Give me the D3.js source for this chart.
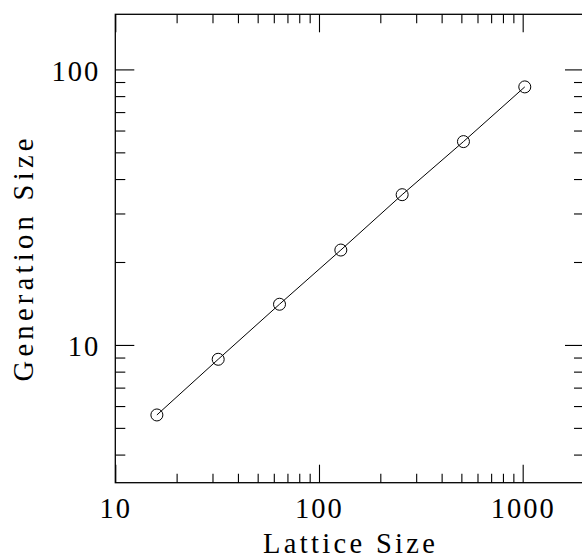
<!DOCTYPE html>
<html>
<head>
<meta charset="utf-8">
<script src="https://cdn.jsdelivr.net/npm/d3@7"></script>
<style>
  body { margin: 0; background: #fff; }
  svg { display: block; }
  .tick text { font-family: "Liberation Serif", serif; font-size: 28.5px; letter-spacing: 2px; fill: #000; }
  .tick line { stroke: #000; stroke-width: 1.1; }
  .title { font-family: "Liberation Serif", serif; font-size: 28.5px; fill: #000; }
</style>
</head>
<body>
<script>
// lattice sizes and measured generation sizes
var latticeSizes = [16, 32, 64, 128, 256, 512, 1024];
var generationSizes = [5.57, 8.87, 14.05, 22.1, 35.1, 54.7, 86.4];

var xMajor = [10, 100, 1000];
var xMinor = [20, 30, 40, 50, 60, 70, 80, 90, 200, 300, 400, 500, 600, 700, 800, 900];
var yMajor = [10, 100];
var yMinor = [4, 5, 6, 7, 8, 9, 20, 30, 40, 50, 60, 70, 80, 90];

(function() {
  var W = 582, H = 558;
  // plot frame edges (right edge sits just past the window)
  var pLeft = 115.3, pTop = 14.3, pBottom = 482.7, pRight = 584;

  var svg = d3.select('body').append('svg')
    .attr('width', W)
    .attr('height', H);

  var x = d3.scaleLog().domain([10, 2000]).range([pLeft, pRight]);
  var y = d3.scaleLog().domain([Math.pow(10, 0.5), Math.pow(10, 2.2)]).range([pBottom, pTop]);

  function noDomain(g) { g.select('.domain').remove(); }

  // bottom axis: major with labels, minor without
  svg.append('g')
    .attr('transform', 'translate(0,' + pBottom + ')')
    .call(d3.axisBottom(x).tickValues(xMajor).tickSize(-18).tickPadding(15.4).tickFormat(d3.format('d')))
    .call(noDomain);
  svg.append('g')
    .attr('transform', 'translate(0,' + pBottom + ')')
    .call(d3.axisBottom(x).tickValues(xMinor).tickSize(-9).tickFormat(''))
    .call(noDomain);

  // top axis, ticks only
  svg.append('g')
    .attr('transform', 'translate(0,' + pTop + ')')
    .call(d3.axisTop(x).tickValues(xMajor).tickSize(-18).tickFormat(''))
    .call(noDomain);
  svg.append('g')
    .attr('transform', 'translate(0,' + pTop + ')')
    .call(d3.axisTop(x).tickValues(xMinor).tickSize(-9).tickFormat(''))
    .call(noDomain);

  // left axis
  var yl = svg.append('g')
    .attr('transform', 'translate(' + pLeft + ',0)')
    .call(d3.axisLeft(y).tickValues(yMajor).tickSize(-19).tickPadding(15).tickFormat(d3.format('d')))
    .call(noDomain);
  yl.selectAll('text').attr('dy', '0.38em');
  svg.append('g')
    .attr('transform', 'translate(' + pLeft + ',0)')
    .call(d3.axisLeft(y).tickValues(yMinor).tickSize(-10).tickFormat(''))
    .call(noDomain);

  // right axis, ticks only
  svg.append('g')
    .attr('transform', 'translate(' + pRight + ',0)')
    .call(d3.axisRight(y).tickValues(yMajor).tickSize(-19).tickFormat(''))
    .call(noDomain);
  svg.append('g')
    .attr('transform', 'translate(' + pRight + ',0)')
    .call(d3.axisRight(y).tickValues(yMinor).tickSize(-10).tickFormat(''))
    .call(noDomain);

  // frame
  svg.append('rect')
    .attr('x', pLeft)
    .attr('y', pTop)
    .attr('width', pRight - pLeft)
    .attr('height', pBottom - pTop)
    .attr('fill', 'none')
    .attr('stroke', '#000')
    .attr('stroke-width', 1.3);

  // data line and markers
  var pts = latticeSizes.map(function(d, i) { return [d, generationSizes[i]]; });

  svg.append('path')
    .datum(pts)
    .attr('fill', 'none')
    .attr('stroke', '#000')
    .attr('stroke-width', 1)
    .attr('d', d3.line()
      .x(function(d) { return x(d[0]); })
      .y(function(d) { return y(d[1]); }));

  svg.selectAll('circle.pt')
    .data(pts)
    .enter()
      .append('circle')
        .attr('class', 'pt')
        .attr('cx', function(d) { return x(d[0]); })
        .attr('cy', function(d) { return y(d[1]); })
        .attr('r', 6)
        .attr('fill', 'none')
        .attr('stroke', '#000')
        .attr('stroke-width', 1);

  // axis titles
  svg.append('text')
    .attr('class', 'title')
    .attr('x', 349)
    .attr('y', 552.7)
    .attr('text-anchor', 'middle')
    .attr('textLength', 172)
    .attr('lengthAdjust', 'spacing')
    .text('Lattice Size');

  svg.append('text')
    .attr('class', 'title')
    .attr('transform', 'translate(32.7,260) rotate(-90)')
    .attr('text-anchor', 'middle')
    .attr('textLength', 243)
    .attr('lengthAdjust', 'spacing')
    .text('Generation Size');
})();
</script>
</body>
</html>
